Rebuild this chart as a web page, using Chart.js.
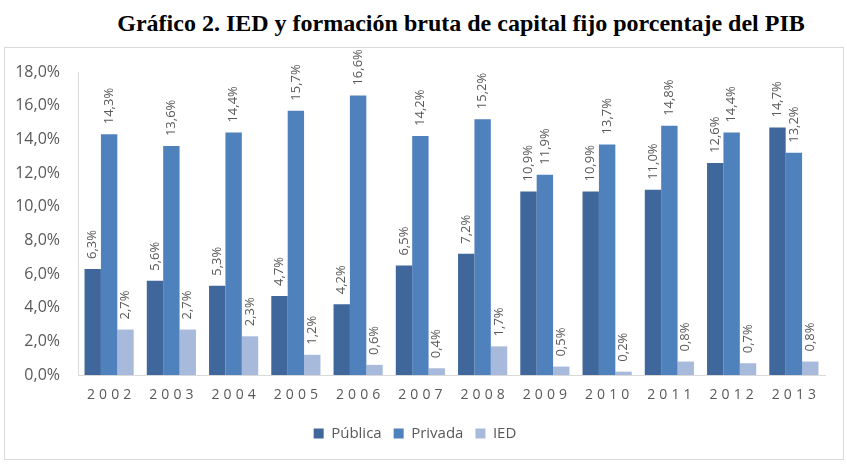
<!DOCTYPE html>
<html>
<head>
<meta charset="utf-8">
<script src="https://cdn.jsdelivr.net/npm/chart.js@4"></script>
<style>
  body { margin: 0; background: #fff; width: 847px; height: 464px; position: relative; }
  #titulo { position: absolute; left: 75px; top: 10px; width: 772px; text-align: center;
    font-family: "Liberation Serif", "Times New Roman", serif; font-weight: bold; font-size: 24px; color: #000; }
  #caja { position: absolute; left: 4px; top: 47px; width: 838px; height: 411px; border: 1px solid #d9d9d9; }
</style>
</head>
<body>
<div id="titulo">Gráfico 2. IED y formación bruta de capital fijo porcentaje del PIB</div>
<div id="caja"><canvas id="grafico" width="838" height="411"></canvas></div>
<script>
const anios = ["2002", "2003", "2004", "2005", "2006", "2007", "2008", "2009", "2010", "2011", "2012", "2013"]
const publica = [6.3, 5.6, 5.3, 4.7, 4.2, 6.5, 7.2, 10.9, 10.9, 11.0, 12.6, 14.7]
const privada = [14.3, 13.6, 14.4, 15.7, 16.6, 14.2, 15.2, 11.9, 13.7, 14.8, 14.4, 13.2]
const ied = [2.7, 2.7, 2.3, 1.2, 0.6, 0.4, 1.7, 0.5, 0.2, 0.8, 0.7, 0.8]

const gris = "#595959"
const fuente = "'Open Sans', sans-serif"

const formato = v => v.toFixed(1).replace(".", ",") + "%"

// etiquetas verticales sobre cada barra
const etiquetas = {
    id: "etiquetas",
    afterDatasetsDraw(chart) {
        const ctx = chart.ctx
        chart.data.datasets.forEach((ds, i) => {
            chart.getDatasetMeta(i).data.forEach((barra, j) => {
                ctx.save()
                ctx.translate(barra.x, barra.y - 10)
                ctx.rotate(-Math.PI / 2)
                ctx.font = "13px " + fuente
                ctx.fillStyle = gris
                ctx.textAlign = "left"
                ctx.textBaseline = "middle"
                ctx.fillText(formato(ds.data[j]), 0, 0)
                ctx.restore()
            })
        })
    }
}

// años con espaciado entre letras
const anioLabels = {
    id: "anioLabels",
    afterDraw(chart) {
        const ctx = chart.ctx
        const x = chart.scales.x
        ctx.save()
        ctx.font = "14px " + fuente
        ctx.fillStyle = gris
        ctx.letterSpacing = "4px"
        ctx.textAlign = "center"
        ctx.textBaseline = "middle"
        anios.forEach((a, i) => {
            ctx.fillText(a, x.getPixelForValue(i) + 2, x.top + 20)
        })
        ctx.restore()
    }
}

new Chart(document.querySelector("#grafico"), {
    type: "bar",
    data: {
        labels: anios,
        datasets: [
            { label: "Pública", data: publica, backgroundColor: "#3f679b" },
            { label: "Privada", data: privada, backgroundColor: "#4f81bd" },
            { label: "IED", data: ied, backgroundColor: "#a8badb" }
        ]
    },
    options: {
        responsive: false,
        animation: false,
        layout: { padding: { top: 24, right: 18, left: 0, bottom: 8 } },
        datasets: { bar: { categoryPercentage: 0.79, barPercentage: 1 } },
        plugins: {
            legend: {
                position: "bottom",
                labels: { boxWidth: 10, boxHeight: 10, color: gris, font: { family: fuente, size: 15 }, padding: 12 }
            },
            tooltip: { enabled: false }
        },
        scales: {
            y: {
                min: 0, max: 18,
                afterFit: s => { s.width = 73 },
                ticks: { stepSize: 2, color: gris, font: { family: fuente, size: 16 }, padding: 10, callback: v => formato(v) },
                grid: { display: false },
                border: { color: "#d9d9d9" }
            },
            x: {
                afterFit: s => { s.height = 39 },
                ticks: { color: "rgba(0,0,0,0)" },
                grid: { display: false },
                border: { color: "#d9d9d9" }
            }
        }
    },
    plugins: [etiquetas, anioLabels]
})
</script>
</body>
</html>
